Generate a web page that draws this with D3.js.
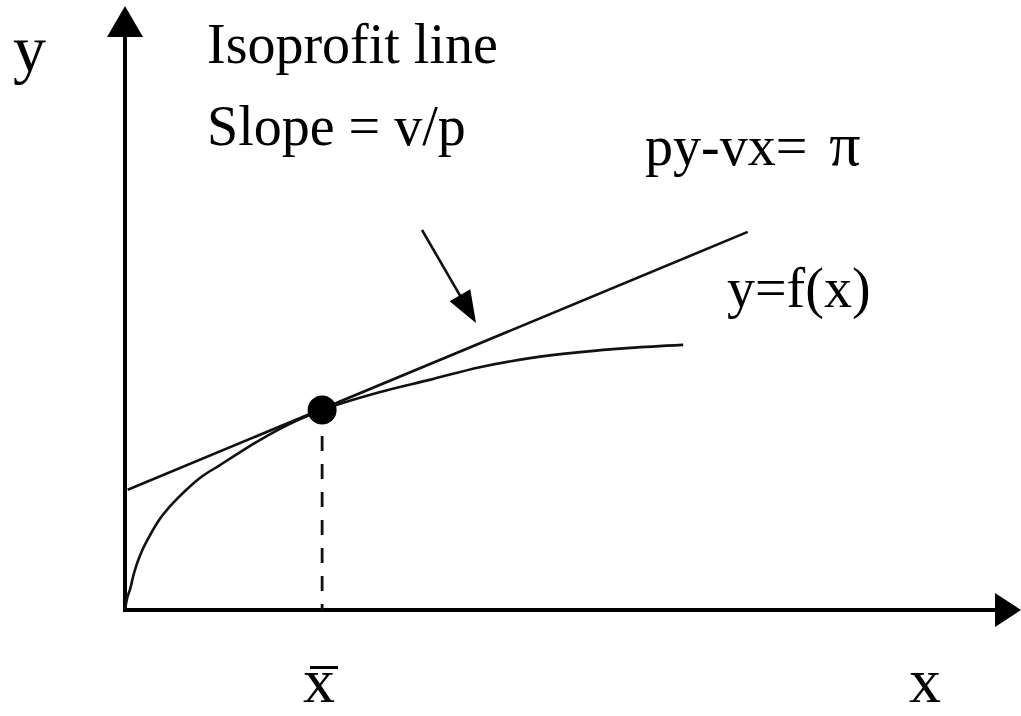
<!DOCTYPE html>
<html>
<head>
<meta charset="utf-8">
<script src="https://cdn.jsdelivr.net/npm/d3@7"></script>
<style>
  html, body { margin: 0; padding: 0; background: #fff; }
  svg { display: block; }
  text { font-family: "Liberation Serif", "Times New Roman", serif; fill: #000; }
</style>
</head>
<body>
<svg id="chart" width="1021" height="716"></svg>
<script>
// Production function y = f(x) (abstract units)
const curveX = [0, 0.02, 0.06, 0.09, 0.13, 0.19, 0.28, 0.39, 0.53, 0.67, 0.84, 1.06, 1.25, 1.40, 1.73, 2.20, 2.85, 3.40, 3.96, 4.52, 5.08, 5.64, 6.23];
const curveY = [0, 0.17, 0.36, 0.55, 0.75, 0.98, 1.24, 1.51, 1.76, 1.97, 2.19, 2.40, 2.58, 2.72, 3.00, 3.31, 3.61, 3.81, 4.02, 4.17, 4.27, 4.34, 4.39];

// Isoprofit line py - vx = pi (two end points)
const isoX = [0.03, 6.95];
const isoY = [1.99, 6.26];

// Tangency point (x-bar)
const tangentX = [2.20];
const tangentY = [3.31];

// Labels
const axisLabels = ["x", "y"];
const textLabels = ["Isoprofit line", "Slope = v/p", "py-vx=", "\u03C0", "y=f(x)"];
const xBarLabel = "x";

const svg = d3.select("#chart");
const x = d3.scaleLinear().domain([0, 10]).range([125, 1021]);
const y = d3.scaleLinear().domain([0, 10]).range([610, 6]);

// Axes
svg.append("line")
  .attr("x1", x(0)).attr("y1", y(0)).attr("x2", x(0)).attr("y2", y(10) + 28)
  .attr("stroke", "#000").attr("stroke-width", 4);
svg.append("line")
  .attr("x1", x(0) - 2).attr("y1", y(0)).attr("x2", x(10) - 22).attr("y2", y(0))
  .attr("stroke", "#000").attr("stroke-width", 4);
// Arrow heads
svg.append("path")
  .attr("d", `M${x(0)},${y(10)} L${x(0) - 18},${y(10) + 31} L${x(0) + 18},${y(10) + 31} Z`)
  .attr("fill", "#000");
svg.append("path")
  .attr("d", `M${x(10)},${y(0)} L${x(10) - 26},${y(0) - 17} L${x(10) - 26},${y(0) + 17} Z`)
  .attr("fill", "#000");

// Production curve
const curvePts = curveX.map((v, i) => [v, curveY[i]]);
svg.append("path")
  .datum(curvePts)
  .attr("d", d3.line().x(d => x(d[0])).y(d => y(d[1])).curve(d3.curveMonotoneX))
  .attr("fill", "none").attr("stroke", "#111").attr("stroke-width", 2.6);

// Isoprofit line
svg.append("line")
  .attr("x1", x(isoX[0])).attr("y1", y(isoY[0]))
  .attr("x2", x(isoX[1])).attr("y2", y(isoY[1]))
  .attr("stroke", "#111").attr("stroke-width", 2.6);

// Dashed drop line
svg.append("line")
  .attr("x1", x(tangentX[0])).attr("y1", y(tangentY[0]))
  .attr("x2", x(tangentX[0])).attr("y2", y(0))
  .attr("stroke", "#111").attr("stroke-width", 2.8)
  .attr("stroke-dasharray", "15,13").attr("stroke-dashoffset", 2);

// Tangency dot
svg.append("circle")
  .attr("cx", x(tangentX[0])).attr("cy", y(tangentY[0])).attr("r", 14.5)
  .attr("fill", "#000");

// Annotation arrow
const a0 = [422, 230], a1 = [476, 323];
const dx = a1[0] - a0[0], dy = a1[1] - a0[1], L = Math.hypot(dx, dy);
const ux = dx / L, uy = dy / L, hl = 32, hw = 12;
const bx = a1[0] - ux * hl, by = a1[1] - uy * hl;
svg.append("line")
  .attr("x1", a0[0]).attr("y1", a0[1]).attr("x2", bx + ux * 4).attr("y2", by + uy * 4)
  .attr("stroke", "#111").attr("stroke-width", 2.6);
svg.append("path")
  .attr("d", `M${a1[0]},${a1[1]} L${bx - uy * hw},${by + ux * hw} L${bx + uy * hw},${by - ux * hw} Z`)
  .attr("fill", "#000");

// Text labels
svg.append("text").attr("x", 207).attr("y", 63).attr("font-size", 56).text(textLabels[0]);
svg.append("text").attr("x", 207).attr("y", 145).attr("font-size", 56).text(textLabels[1]);
const piText = svg.append("text").attr("x", 645).attr("y", 165).attr("font-size", 56);
piText.append("tspan").text(textLabels[2]);
piText.append("tspan").attr("dx", 22).attr("font-size", 62).text(textLabels[3]);
svg.append("text").attr("x", 727).attr("y", 307).attr("font-size", 56).text(textLabels[4]);

// Axis labels
svg.append("text").attr("x", 909).attr("y", 702).attr("font-size", 64).text(axisLabels[0]);
svg.append("text").attr("x", 13).attr("y", 71).attr("font-size", 66).text(axisLabels[1]);

// x-bar label
svg.append("text").attr("x", 303).attr("y", 702).attr("font-size", 64).text(xBarLabel);
svg.append("line")
  .attr("x1", 310).attr("x2", 338).attr("y1", 667.5).attr("y2", 667.5)
  .attr("stroke", "#000").attr("stroke-width", 3);
</script>
</body>
</html>
